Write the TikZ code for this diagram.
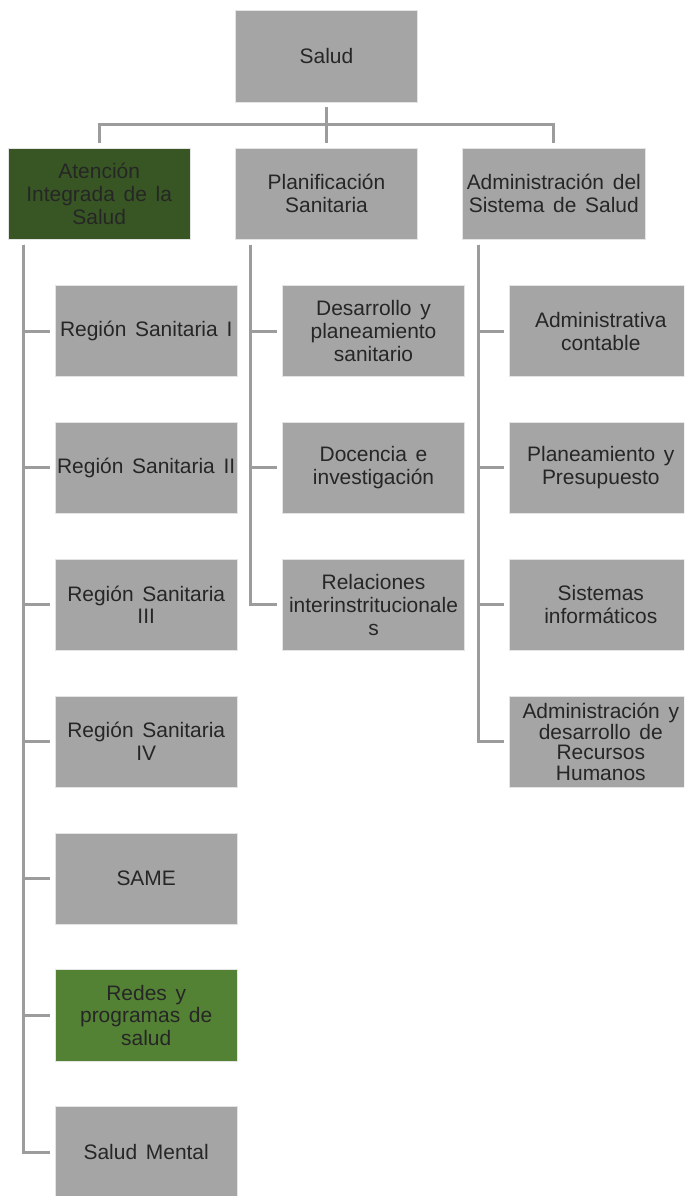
\documentclass[tikz,border=0pt]{standalone}
\usepackage{fontspec}
\setsansfont{Liberation Sans}[WordSpace=1.5]
\usetikzlibrary{positioning}

\definecolor{boxgray}{HTML}{A5A5A5}
\definecolor{darkgreen}{HTML}{375623}
\definecolor{leafgreen}{HTML}{548235}
\definecolor{linegray}{HTML}{9C9C9C}

\begin{document}
\begin{tikzpicture}[
    x=0.025cm, y=-0.025cm,
    font=\sffamily\fontsize{14.9}{16.3}\selectfont,
    unit/.style={draw=white!70!boxgray, line width=0.6pt, fill=boxgray, text=black!85, minimum width=4.56cm, minimum height=2.28cm, inner sep=1pt, align=center},
    headunit/.style={unit, fill=darkgreen},
    greenunit/.style={unit, fill=leafgreen},
    link/.style={draw=linegray, line width=2.2pt, shorten <=3.5pt, shorten >=3.5pt},
    node distance=1.13cm
  ]

  \clip (0,0) rectangle (684,1196);

  % top and first level
  \node[unit] (salud) at (326.5,56.5) {Salud};
  \node[unit, below=of salud] (planif) {Planificación\\Sanitaria};
  \node[headunit, left=1.1cm of planif] (atencion) {Atención\\Integrada de la\\Salud};
  \node[unit, right=1.1cm of planif] (admin) {Administración del\\Sistema de Salud};

  % Atención Integrada de la Salud
  \node[unit, below=of atencion, xshift=1.175cm] (reg1) {Región Sanitaria I};
  \node[unit, below=1.12cm of reg1] (reg2) {Región Sanitaria II};
  \node[unit, below=1.12cm of reg2] (reg3) {Región Sanitaria\\III};
  \node[unit, below=1.12cm of reg3] (reg4) {Región Sanitaria\\IV};
  \node[unit, below=1.12cm of reg4] (same) {SAME};
  \node[greenunit, below=1.12cm of same] (redes) {Redes y\\programas de\\salud};
  \node[unit, below=1.12cm of redes] (mental) {Salud Mental};

  % Planificación Sanitaria
  \node[unit, below=of planif, xshift=1.175cm] (desarrollo) {Desarrollo y\\planeamiento\\sanitario};
  \node[unit, below=1.12cm of desarrollo] (docencia) {Docencia e\\investigación};
  \node[unit, below=1.12cm of docencia] (relaciones) {Relaciones\\interinstritucionale\\s};

  % Administración del Sistema de Salud
  \node[unit, below=of admin, xshift=1.175cm] (contable) {Administrativa\\contable};
  \node[unit, below=1.12cm of contable] (presupuesto) {Planeamiento y\\Presupuesto};
  \node[unit, below=1.12cm of presupuesto] (sistemas) {Sistemas\\informáticos};
  \node[unit, below=1.12cm of sistemas, font=\sffamily\fontsize{14.9}{14.6}\selectfont] (rrhh) {Administración y\\desarrollo de\\Recursos\\Humanos};

  % connectors
  \draw[link] (salud) -- (planif);
  \draw[link] (salud.south) -- ++(0,-0.55cm) -| (atencion.north);
  \draw[link] (salud.south) -- ++(0,-0.55cm) -| (admin.north);

  \draw[link] ([xshift=0.4cm]atencion.south west) |- (reg1.west);
  \draw[link] ([xshift=0.4cm]atencion.south west) |- (reg2.west);
  \draw[link] ([xshift=0.4cm]atencion.south west) |- (reg3.west);
  \draw[link] ([xshift=0.4cm]atencion.south west) |- (reg4.west);
  \draw[link] ([xshift=0.4cm]atencion.south west) |- (same.west);
  \draw[link] ([xshift=0.4cm]atencion.south west) |- (redes.west);
  \draw[link] ([xshift=0.4cm]atencion.south west) |- (mental.west);

  \draw[link] ([xshift=0.4cm]planif.south west) |- (desarrollo.west);
  \draw[link] ([xshift=0.4cm]planif.south west) |- (docencia.west);
  \draw[link] ([xshift=0.4cm]planif.south west) |- (relaciones.west);

  \draw[link] ([xshift=0.4cm]admin.south west) |- (contable.west);
  \draw[link] ([xshift=0.4cm]admin.south west) |- (presupuesto.west);
  \draw[link] ([xshift=0.4cm]admin.south west) |- (sistemas.west);
  \draw[link] ([xshift=0.4cm]admin.south west) |- (rrhh.west);

\end{tikzpicture}
\end{document}
